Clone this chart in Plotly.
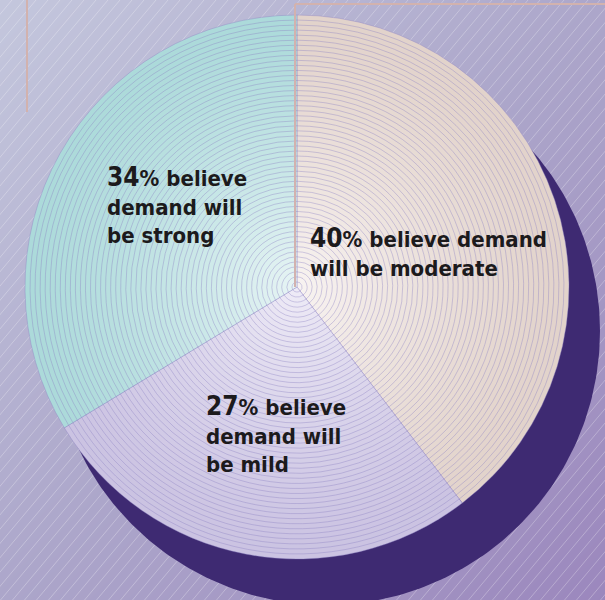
import numpy as np
import plotly.graph_objects as go

# Survey outcome shares
labels = ["Moderate", "Mild", "Strong"]
values = [40, 27, 34]
slice_outer = ["#e2d3cb", "#cbc3e2", "#acdada"]
slice_inner = ["#f8f3f1", "#eeebf6", "#e6f4f4"]

label_text = [
    "<span style='font-size:26px'><b>40</b></span><b>% believe demand<br>will be moderate</b>",
    "<span style='font-size:26px'><b>27</b></span><b>% believe<br>demand will<br>be mild</b>",
    "<span style='font-size:26px'><b>34</b></span><b>% believe<br>demand will<br>be strong</b>",
]
label_pos = [(308, 221), (204, 389), (105, 160)]

W, H = 605, 600
CX, CY, R = 297, 287, 272
SHADOW_CX, SHADOW_CY, SHADOW_R = 326, 331, 274
N_RINGS = 54


def hex_to_rgb(h):
    h = h.lstrip("#")
    return np.array([int(h[i:i + 2], 16) for i in (0, 2, 4)], dtype=float)


def mix(a, b, t):
    c = hex_to_rgb(a) * (1 - t) + hex_to_rgb(b) * t
    return "rgb(%d,%d,%d)" % tuple(np.round(c).astype(int))


fig = go.Figure()

# Background: diagonal gradient
gx = np.linspace(0, W, 24)
gy = np.linspace(0, H, 24)
gz = (gx[None, :] / W + gy[:, None] / H) / 2
fig.add_trace(go.Heatmap(
    x=gx, y=gy, z=gz, zsmooth="best", showscale=False, hoverinfo="skip",
    colorscale=[[0, "#c4c7dd"], [0.5, "#aca6ca"], [1, "#9b87bd"]],
))

# Background: fine diagonal hatching
ang = np.deg2rad(50)
run = H / np.tan(ang)
hx, hy = [], []
for c in np.arange(-run - 12, W + 12, 12):
    hx += [c, c + run, None]
    hy += [H, 0, None]
fig.add_trace(go.Scatter(
    x=hx, y=hy, mode="lines", hoverinfo="skip", showlegend=False,
    line=dict(color="rgba(255,255,255,0.35)", width=0.8),
))

# Drop shadow disc
t = np.linspace(0, 2 * np.pi, 361)
fig.add_trace(go.Scatter(
    x=SHADOW_CX + SHADOW_R * np.cos(t), y=SHADOW_CY + SHADOW_R * np.sin(t),
    mode="lines", fill="toself", fillcolor="#3e2a72",
    line=dict(color="#3e2a72", width=0), hoverinfo="skip", showlegend=False,
))

# Pie built from concentric layers: radial shading plus ring texture
for k in range(N_RINGS):
    r = R * (1 - k / N_RINGS)
    frac = k / (N_RINGS - 1)
    cols = [mix(o, i, frac ** 1.3) for o, i in zip(slice_outer, slice_inner)]
    fig.add_trace(go.Pie(
        labels=labels, values=values, sort=False, direction="clockwise",
        rotation=0, textinfo="none", hoverinfo="skip", showlegend=False,
        marker=dict(colors=cols,
                    line=dict(color="rgba(140,130,195,0.55)", width=0.7)),
        domain=dict(x=[(CX - r) / W, (CX + r) / W],
                    y=[(H - CY - r) / H, (H - CY + r) / H]),
    ))

# Decorative frame lines
frame = dict(color="#d2b2ae", width=2)
shapes = [
    dict(type="line", xref="x", yref="y", x0=27, y0=0, x1=27, y1=112, line=frame, layer="above"),
    dict(type="line", xref="x", yref="y", x0=295, y0=4, x1=W, y1=4, line=frame, layer="above"),
    dict(type="line", xref="x", yref="y", x0=295, y0=4, x1=295, y1=CY, line=frame, layer="above"),
]

annotations = [
    dict(x=x, y=y, xref="x", yref="y", text=txt, showarrow=False,
         xanchor="left", yanchor="top", align="left",
         font=dict(family="DejaVu Sans Condensed, Liberation Sans Narrow, sans-serif",
                   size=22, color="#1c1a1c"))
    for txt, (x, y) in zip(label_text, label_pos)
]

fig.update_layout(
    width=W, height=H, margin=dict(l=0, r=0, t=0, b=0),
    paper_bgcolor="#b0aacb", plot_bgcolor="#b0aacb",
    xaxis=dict(range=[0, W], visible=False, fixedrange=True),
    yaxis=dict(range=[H, 0], visible=False, fixedrange=True),
    shapes=shapes, annotations=annotations, showlegend=False,
)

fig.write_html("out.html", config={"displayModeBar": False})
